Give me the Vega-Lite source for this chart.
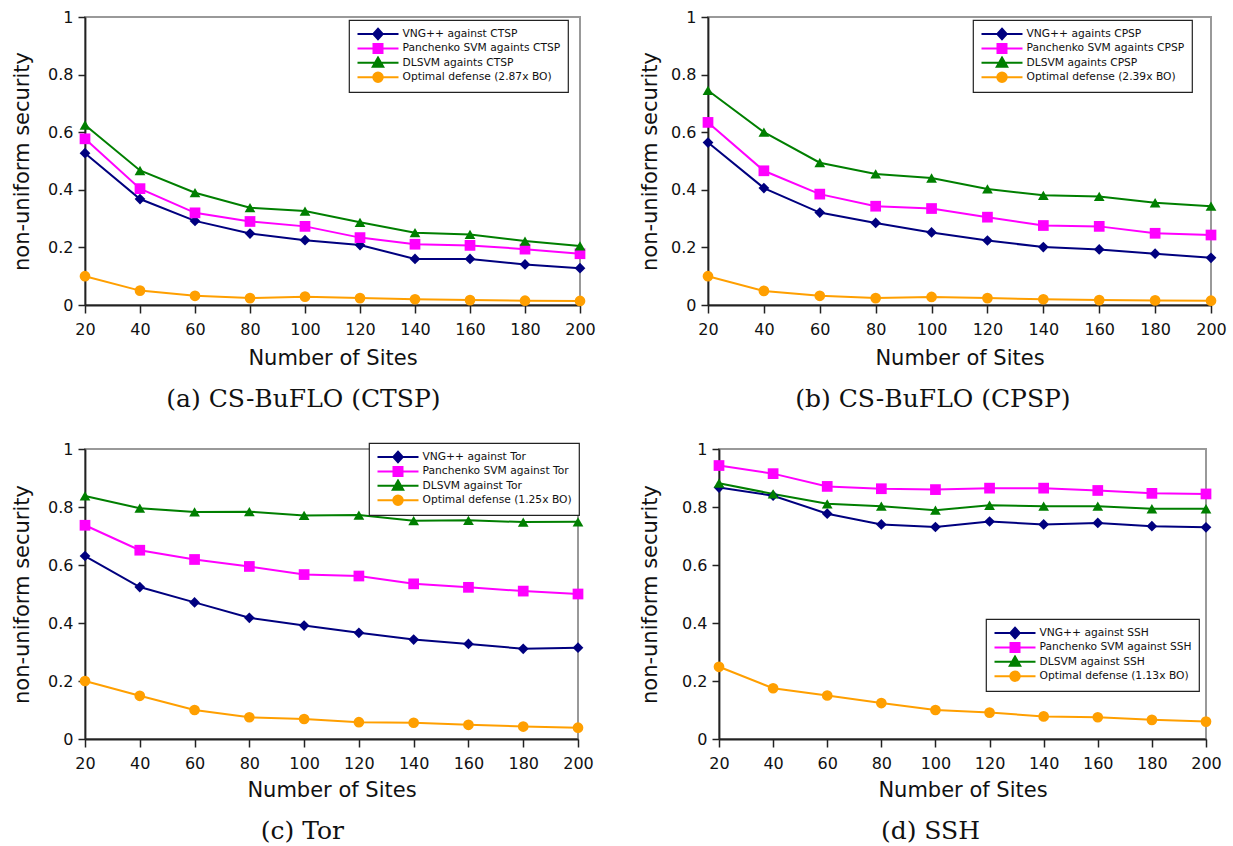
{
  "$schema": "https://vega.github.io/schema/vega-lite/v6.json",
  "padding": {"left": 10, "top": 8, "right": 0, "bottom": 0},
  "background": "white",
  "data": {"values": [
    {"panel":"a","series":"VNG++ against CTSP","sites":20,"value":0.527},
    {"panel":"a","series":"VNG++ against CTSP","sites":40,"value":0.368},
    {"panel":"a","series":"VNG++ against CTSP","sites":60,"value":0.292},
    {"panel":"a","series":"VNG++ against CTSP","sites":80,"value":0.248},
    {"panel":"a","series":"VNG++ against CTSP","sites":100,"value":0.225},
    {"panel":"a","series":"VNG++ against CTSP","sites":120,"value":0.208},
    {"panel":"a","series":"VNG++ against CTSP","sites":140,"value":0.16},
    {"panel":"a","series":"VNG++ against CTSP","sites":160,"value":0.16},
    {"panel":"a","series":"VNG++ against CTSP","sites":180,"value":0.141},
    {"panel":"a","series":"VNG++ against CTSP","sites":200,"value":0.128},
    {"panel":"a","series":"Panchenko SVM againts CTSP","sites":20,"value":0.577},
    {"panel":"a","series":"Panchenko SVM againts CTSP","sites":40,"value":0.404},
    {"panel":"a","series":"Panchenko SVM againts CTSP","sites":60,"value":0.32},
    {"panel":"a","series":"Panchenko SVM againts CTSP","sites":80,"value":0.29},
    {"panel":"a","series":"Panchenko SVM againts CTSP","sites":100,"value":0.273},
    {"panel":"a","series":"Panchenko SVM againts CTSP","sites":120,"value":0.234},
    {"panel":"a","series":"Panchenko SVM againts CTSP","sites":140,"value":0.211},
    {"panel":"a","series":"Panchenko SVM againts CTSP","sites":160,"value":0.207},
    {"panel":"a","series":"Panchenko SVM againts CTSP","sites":180,"value":0.194},
    {"panel":"a","series":"Panchenko SVM againts CTSP","sites":200,"value":0.178},
    {"panel":"a","series":"DLSVM againts CTSP","sites":20,"value":0.625},
    {"panel":"a","series":"DLSVM againts CTSP","sites":40,"value":0.467},
    {"panel":"a","series":"DLSVM againts CTSP","sites":60,"value":0.39},
    {"panel":"a","series":"DLSVM againts CTSP","sites":80,"value":0.338},
    {"panel":"a","series":"DLSVM againts CTSP","sites":100,"value":0.326},
    {"panel":"a","series":"DLSVM againts CTSP","sites":120,"value":0.287},
    {"panel":"a","series":"DLSVM againts CTSP","sites":140,"value":0.251},
    {"panel":"a","series":"DLSVM againts CTSP","sites":160,"value":0.245},
    {"panel":"a","series":"DLSVM againts CTSP","sites":180,"value":0.222},
    {"panel":"a","series":"DLSVM againts CTSP","sites":200,"value":0.205},
    {"panel":"a","series":"Optimal defense (2.87x BO)","sites":20,"value":0.1},
    {"panel":"a","series":"Optimal defense (2.87x BO)","sites":40,"value":0.05},
    {"panel":"a","series":"Optimal defense (2.87x BO)","sites":60,"value":0.032},
    {"panel":"a","series":"Optimal defense (2.87x BO)","sites":80,"value":0.024},
    {"panel":"a","series":"Optimal defense (2.87x BO)","sites":100,"value":0.029},
    {"panel":"a","series":"Optimal defense (2.87x BO)","sites":120,"value":0.024},
    {"panel":"a","series":"Optimal defense (2.87x BO)","sites":140,"value":0.02},
    {"panel":"a","series":"Optimal defense (2.87x BO)","sites":160,"value":0.017},
    {"panel":"a","series":"Optimal defense (2.87x BO)","sites":180,"value":0.015},
    {"panel":"a","series":"Optimal defense (2.87x BO)","sites":200,"value":0.014},
    {"panel":"b","series":"VNG++ againts CPSP","sites":20,"value":0.564},
    {"panel":"b","series":"VNG++ againts CPSP","sites":40,"value":0.406},
    {"panel":"b","series":"VNG++ againts CPSP","sites":60,"value":0.321},
    {"panel":"b","series":"VNG++ againts CPSP","sites":80,"value":0.285},
    {"panel":"b","series":"VNG++ againts CPSP","sites":100,"value":0.252},
    {"panel":"b","series":"VNG++ againts CPSP","sites":120,"value":0.224},
    {"panel":"b","series":"VNG++ againts CPSP","sites":140,"value":0.201},
    {"panel":"b","series":"VNG++ againts CPSP","sites":160,"value":0.193},
    {"panel":"b","series":"VNG++ againts CPSP","sites":180,"value":0.178},
    {"panel":"b","series":"VNG++ againts CPSP","sites":200,"value":0.164},
    {"panel":"b","series":"Panchenko SVM againts CPSP","sites":20,"value":0.634},
    {"panel":"b","series":"Panchenko SVM againts CPSP","sites":40,"value":0.466},
    {"panel":"b","series":"Panchenko SVM againts CPSP","sites":60,"value":0.385},
    {"panel":"b","series":"Panchenko SVM againts CPSP","sites":80,"value":0.343},
    {"panel":"b","series":"Panchenko SVM againts CPSP","sites":100,"value":0.335},
    {"panel":"b","series":"Panchenko SVM againts CPSP","sites":120,"value":0.305},
    {"panel":"b","series":"Panchenko SVM againts CPSP","sites":140,"value":0.276},
    {"panel":"b","series":"Panchenko SVM againts CPSP","sites":160,"value":0.273},
    {"panel":"b","series":"Panchenko SVM againts CPSP","sites":180,"value":0.249},
    {"panel":"b","series":"Panchenko SVM againts CPSP","sites":200,"value":0.243},
    {"panel":"b","series":"DLSVM againts CPSP","sites":20,"value":0.745},
    {"panel":"b","series":"DLSVM againts CPSP","sites":40,"value":0.6},
    {"panel":"b","series":"DLSVM againts CPSP","sites":60,"value":0.494},
    {"panel":"b","series":"DLSVM againts CPSP","sites":80,"value":0.455},
    {"panel":"b","series":"DLSVM againts CPSP","sites":100,"value":0.441},
    {"panel":"b","series":"DLSVM againts CPSP","sites":120,"value":0.403},
    {"panel":"b","series":"DLSVM againts CPSP","sites":140,"value":0.381},
    {"panel":"b","series":"DLSVM againts CPSP","sites":160,"value":0.377},
    {"panel":"b","series":"DLSVM againts CPSP","sites":180,"value":0.355},
    {"panel":"b","series":"DLSVM againts CPSP","sites":200,"value":0.343},
    {"panel":"b","series":"Optimal defense (2.39x BO)","sites":20,"value":0.1},
    {"panel":"b","series":"Optimal defense (2.39x BO)","sites":40,"value":0.049},
    {"panel":"b","series":"Optimal defense (2.39x BO)","sites":60,"value":0.032},
    {"panel":"b","series":"Optimal defense (2.39x BO)","sites":80,"value":0.024},
    {"panel":"b","series":"Optimal defense (2.39x BO)","sites":100,"value":0.028},
    {"panel":"b","series":"Optimal defense (2.39x BO)","sites":120,"value":0.024},
    {"panel":"b","series":"Optimal defense (2.39x BO)","sites":140,"value":0.02},
    {"panel":"b","series":"Optimal defense (2.39x BO)","sites":160,"value":0.017},
    {"panel":"b","series":"Optimal defense (2.39x BO)","sites":180,"value":0.016},
    {"panel":"b","series":"Optimal defense (2.39x BO)","sites":200,"value":0.015},
    {"panel":"c","series":"VNG++ against Tor","sites":20,"value":0.631},
    {"panel":"c","series":"VNG++ against Tor","sites":40,"value":0.524},
    {"panel":"c","series":"VNG++ against Tor","sites":60,"value":0.471},
    {"panel":"c","series":"VNG++ against Tor","sites":80,"value":0.418},
    {"panel":"c","series":"VNG++ against Tor","sites":100,"value":0.391},
    {"panel":"c","series":"VNG++ against Tor","sites":120,"value":0.366},
    {"panel":"c","series":"VNG++ against Tor","sites":140,"value":0.343},
    {"panel":"c","series":"VNG++ against Tor","sites":160,"value":0.328},
    {"panel":"c","series":"VNG++ against Tor","sites":180,"value":0.311},
    {"panel":"c","series":"VNG++ against Tor","sites":200,"value":0.315},
    {"panel":"c","series":"Panchenko SVM against Tor","sites":20,"value":0.737},
    {"panel":"c","series":"Panchenko SVM against Tor","sites":40,"value":0.651},
    {"panel":"c","series":"Panchenko SVM against Tor","sites":60,"value":0.619},
    {"panel":"c","series":"Panchenko SVM against Tor","sites":80,"value":0.595},
    {"panel":"c","series":"Panchenko SVM against Tor","sites":100,"value":0.567},
    {"panel":"c","series":"Panchenko SVM against Tor","sites":120,"value":0.562},
    {"panel":"c","series":"Panchenko SVM against Tor","sites":140,"value":0.535},
    {"panel":"c","series":"Panchenko SVM against Tor","sites":160,"value":0.523},
    {"panel":"c","series":"Panchenko SVM against Tor","sites":180,"value":0.51},
    {"panel":"c","series":"Panchenko SVM against Tor","sites":200,"value":0.5},
    {"panel":"c","series":"DLSVM against Tor","sites":20,"value":0.838},
    {"panel":"c","series":"DLSVM against Tor","sites":40,"value":0.796},
    {"panel":"c","series":"DLSVM against Tor","sites":60,"value":0.783},
    {"panel":"c","series":"DLSVM against Tor","sites":80,"value":0.784},
    {"panel":"c","series":"DLSVM against Tor","sites":100,"value":0.771},
    {"panel":"c","series":"DLSVM against Tor","sites":120,"value":0.772},
    {"panel":"c","series":"DLSVM against Tor","sites":140,"value":0.753},
    {"panel":"c","series":"DLSVM against Tor","sites":160,"value":0.754},
    {"panel":"c","series":"DLSVM against Tor","sites":180,"value":0.748},
    {"panel":"c","series":"DLSVM against Tor","sites":200,"value":0.749},
    {"panel":"c","series":"Optimal defense (1.25x BO)","sites":20,"value":0.2},
    {"panel":"c","series":"Optimal defense (1.25x BO)","sites":40,"value":0.149},
    {"panel":"c","series":"Optimal defense (1.25x BO)","sites":60,"value":0.1},
    {"panel":"c","series":"Optimal defense (1.25x BO)","sites":80,"value":0.075},
    {"panel":"c","series":"Optimal defense (1.25x BO)","sites":100,"value":0.069},
    {"panel":"c","series":"Optimal defense (1.25x BO)","sites":120,"value":0.058},
    {"panel":"c","series":"Optimal defense (1.25x BO)","sites":140,"value":0.056},
    {"panel":"c","series":"Optimal defense (1.25x BO)","sites":160,"value":0.049},
    {"panel":"c","series":"Optimal defense (1.25x BO)","sites":180,"value":0.043},
    {"panel":"c","series":"Optimal defense (1.25x BO)","sites":200,"value":0.039},
    {"panel":"d","series":"VNG++ against SSH","sites":20,"value":0.867},
    {"panel":"d","series":"VNG++ against SSH","sites":40,"value":0.839},
    {"panel":"d","series":"VNG++ against SSH","sites":60,"value":0.777},
    {"panel":"d","series":"VNG++ against SSH","sites":80,"value":0.74},
    {"panel":"d","series":"VNG++ against SSH","sites":100,"value":0.731},
    {"panel":"d","series":"VNG++ against SSH","sites":120,"value":0.75},
    {"panel":"d","series":"VNG++ against SSH","sites":140,"value":0.74},
    {"panel":"d","series":"VNG++ against SSH","sites":160,"value":0.745},
    {"panel":"d","series":"VNG++ against SSH","sites":180,"value":0.734},
    {"panel":"d","series":"VNG++ against SSH","sites":200,"value":0.73},
    {"panel":"d","series":"Panchenko SVM against SSH","sites":20,"value":0.943},
    {"panel":"d","series":"Panchenko SVM against SSH","sites":40,"value":0.915},
    {"panel":"d","series":"Panchenko SVM against SSH","sites":60,"value":0.871},
    {"panel":"d","series":"Panchenko SVM against SSH","sites":80,"value":0.863},
    {"panel":"d","series":"Panchenko SVM against SSH","sites":100,"value":0.86},
    {"panel":"d","series":"Panchenko SVM against SSH","sites":120,"value":0.865},
    {"panel":"d","series":"Panchenko SVM against SSH","sites":140,"value":0.865},
    {"panel":"d","series":"Panchenko SVM against SSH","sites":160,"value":0.857},
    {"panel":"d","series":"Panchenko SVM against SSH","sites":180,"value":0.847},
    {"panel":"d","series":"Panchenko SVM against SSH","sites":200,"value":0.845},
    {"panel":"d","series":"DLSVM against SSH","sites":20,"value":0.882},
    {"panel":"d","series":"DLSVM against SSH","sites":40,"value":0.845},
    {"panel":"d","series":"DLSVM against SSH","sites":60,"value":0.811},
    {"panel":"d","series":"DLSVM against SSH","sites":80,"value":0.803},
    {"panel":"d","series":"DLSVM against SSH","sites":100,"value":0.789},
    {"panel":"d","series":"DLSVM against SSH","sites":120,"value":0.806},
    {"panel":"d","series":"DLSVM against SSH","sites":140,"value":0.803},
    {"panel":"d","series":"DLSVM against SSH","sites":160,"value":0.803},
    {"panel":"d","series":"DLSVM against SSH","sites":180,"value":0.794},
    {"panel":"d","series":"DLSVM against SSH","sites":200,"value":0.794},
    {"panel":"d","series":"Optimal defense (1.13x BO)","sites":20,"value":0.249},
    {"panel":"d","series":"Optimal defense (1.13x BO)","sites":40,"value":0.175},
    {"panel":"d","series":"Optimal defense (1.13x BO)","sites":60,"value":0.15},
    {"panel":"d","series":"Optimal defense (1.13x BO)","sites":80,"value":0.124},
    {"panel":"d","series":"Optimal defense (1.13x BO)","sites":100,"value":0.1},
    {"panel":"d","series":"Optimal defense (1.13x BO)","sites":120,"value":0.091},
    {"panel":"d","series":"Optimal defense (1.13x BO)","sites":140,"value":0.078},
    {"panel":"d","series":"Optimal defense (1.13x BO)","sites":160,"value":0.075},
    {"panel":"d","series":"Optimal defense (1.13x BO)","sites":180,"value":0.066},
    {"panel":"d","series":"Optimal defense (1.13x BO)","sites":200,"value":0.06}
  ]},
  "config": {
    "view": {"stroke": "#999999", "strokeWidth": 2},
    "axis": {"grid": false, "domainColor": "#222222", "domainWidth": 1.8, "tickColor": "#222222", "tickWidth": 1.5, "labelFont": "DejaVu Sans", "labelFontSize": 16, "labelColor": "#111111", "labelFlush": false, "labelOverlap": false, "titleFont": "DejaVu Sans", "titleFontSize": 21, "titleFontWeight": "normal", "titleColor": "#111111"},
    "axisX": {"tickSize": 8, "labelPadding": 8, "titlePadding": 10},
    "axisY": {"tickSize": 7, "labelPadding": 5, "format": "~g"},
    "title": {"font": "DejaVu Serif", "fontSize": 25, "fontWeight": "normal", "color": "#111111", "orient": "bottom", "frame": "bounds", "anchor": "middle", "offset": 19, "baseline": "top"},
    "legend": {"title": null, "padding": 7, "strokeColor": "#222222", "strokeWidth": 1.2, "fillColor": "white", "labelFont": "DejaVu Sans", "labelFontSize": 10.7, "labelColor": "#111111", "labelLimit": 400, "symbolSize": 100, "symbolStrokeWidth": 2, "symbolOffset": 16, "labelOffset": 18.5, "rowPadding": 0.4, "clipHeight": 14, "direction": "vertical"}
  },
  "resolve": {"scale": {"color": "independent"}, "legend": {"color": "independent"}},
  "columns": 2,
  "align": "none",
  "spacing": {"row": 27, "column": 41},
  "concat": [
    {
      "width": 495, "height": 288,
      "title": {"text": "(a) CS-BuFLO (CTSP)"},
      "transform": [{"filter": "datum.panel === 'a'"}],
      "encoding": {
        "x": {"field": "sites", "type": "quantitative", "scale": {"domain": [20, 200], "nice": false, "zero": false}, "axis": {"values": [20,40,60,80,100,120,140,160,180,200], "title": "Number of Sites"}},
        "y": {"field": "value", "type": "quantitative", "scale": {"domain": [0, 1], "nice": false}, "axis": {"values": [0,0.2,0.4,0.6,0.8,1], "title": "non-uniform security", "titlePadding": 15}},
        "color": {"field": "series", "type": "nominal",
          "scale": {"domain": ["VNG++ against CTSP","Panchenko SVM againts CTSP","DLSVM againts CTSP","Optimal defense (2.87x BO)"], "range": ["#00007f","#ff00ff","#007f00","#ff9f00"]},
          "legend": {"orient": "none", "legendX": 264, "legendY": 3,
            "encode": {"symbols": {"update": {
              "shape": {"signal": "indexof(datum.value,'VNG')>=0 ? 'M-4.1,0H4.1M0,-1.05L0.95,0L0,1.05L-0.95,0Z' : indexof(datum.value,'Panchenko')>=0 ? 'M-4.1,0H4.1M-0.9,-0.9H0.9V0.9H-0.9Z' : indexof(datum.value,'DLSVM')>=0 ? 'M-4.1,0H4.1M0,-1.05L1.05,0.8H-1.05Z' : 'M-4.1,0H4.1M-0.95,0A0.95,0.95,0,1,0,0.95,0A0.95,0.95,0,1,0,-0.95,0Z'"},
              "fill": {"signal": "indexof(datum.value,'VNG')>=0 ? '#00007f' : indexof(datum.value,'Panchenko')>=0 ? '#ff00ff' : indexof(datum.value,'DLSVM')>=0 ? '#007f00' : '#ff9f00'"},
              "stroke": {"signal": "indexof(datum.value,'VNG')>=0 ? '#00007f' : indexof(datum.value,'Panchenko')>=0 ? '#ff00ff' : indexof(datum.value,'DLSVM')>=0 ? '#007f00' : '#ff9f00'"},
              "strokeWidth": {"value": 2},
              "opacity": {"value": 1}
            }}}}}
      },
      "layer": [
        {"mark": {"type": "line", "strokeWidth": 2}},
        {"transform": [{"filter": "indexof(datum.series,'VNG')>=0"}], "mark": {"type": "point", "shape": "diamond", "filled": true, "size": 115, "opacity": 1}},
        {"transform": [{"filter": "indexof(datum.series,'Panchenko')>=0"}], "mark": {"type": "point", "shape": "square", "filled": true, "size": 115, "opacity": 1}},
        {"transform": [{"filter": "indexof(datum.series,'DLSVM')>=0"}], "mark": {"type": "point", "shape": "triangle-up", "filled": true, "size": 115, "opacity": 1}},
        {"transform": [{"filter": "indexof(datum.series,'Optimal')>=0"}], "mark": {"type": "point", "shape": "circle", "filled": true, "size": 115, "opacity": 1}}
      ]
    },
    {
      "width": 503, "height": 288,
      "title": {"text": "(b) CS-BuFLO (CPSP)"},
      "transform": [{"filter": "datum.panel === 'b'"}],
      "encoding": {
        "x": {"field": "sites", "type": "quantitative", "scale": {"domain": [20, 200], "nice": false, "zero": false}, "axis": {"values": [20,40,60,80,100,120,140,160,180,200], "title": "Number of Sites"}},
        "y": {"field": "value", "type": "quantitative", "scale": {"domain": [0, 1], "nice": false}, "axis": {"values": [0,0.2,0.4,0.6,0.8,1], "title": "non-uniform security", "titlePadding": 10}},
        "color": {"field": "series", "type": "nominal",
          "scale": {"domain": ["VNG++ againts CPSP","Panchenko SVM againts CPSP","DLSVM againts CPSP","Optimal defense (2.39x BO)"], "range": ["#00007f","#ff00ff","#007f00","#ff9f00"]},
          "legend": {"orient": "none", "legendX": 265, "legendY": 3,
            "encode": {"symbols": {"update": {
              "shape": {"signal": "indexof(datum.value,'VNG')>=0 ? 'M-4.1,0H4.1M0,-1.05L0.95,0L0,1.05L-0.95,0Z' : indexof(datum.value,'Panchenko')>=0 ? 'M-4.1,0H4.1M-0.9,-0.9H0.9V0.9H-0.9Z' : indexof(datum.value,'DLSVM')>=0 ? 'M-4.1,0H4.1M0,-1.05L1.05,0.8H-1.05Z' : 'M-4.1,0H4.1M-0.95,0A0.95,0.95,0,1,0,0.95,0A0.95,0.95,0,1,0,-0.95,0Z'"},
              "fill": {"signal": "indexof(datum.value,'VNG')>=0 ? '#00007f' : indexof(datum.value,'Panchenko')>=0 ? '#ff00ff' : indexof(datum.value,'DLSVM')>=0 ? '#007f00' : '#ff9f00'"},
              "stroke": {"signal": "indexof(datum.value,'VNG')>=0 ? '#00007f' : indexof(datum.value,'Panchenko')>=0 ? '#ff00ff' : indexof(datum.value,'DLSVM')>=0 ? '#007f00' : '#ff9f00'"},
              "strokeWidth": {"value": 2},
              "opacity": {"value": 1}
            }}}}}
      },
      "layer": [
        {"mark": {"type": "line", "strokeWidth": 2}},
        {"transform": [{"filter": "indexof(datum.series,'VNG')>=0"}], "mark": {"type": "point", "shape": "diamond", "filled": true, "size": 115, "opacity": 1}},
        {"transform": [{"filter": "indexof(datum.series,'Panchenko')>=0"}], "mark": {"type": "point", "shape": "square", "filled": true, "size": 115, "opacity": 1}},
        {"transform": [{"filter": "indexof(datum.series,'DLSVM')>=0"}], "mark": {"type": "point", "shape": "triangle-up", "filled": true, "size": 115, "opacity": 1}},
        {"transform": [{"filter": "indexof(datum.series,'Optimal')>=0"}], "mark": {"type": "point", "shape": "circle", "filled": true, "size": 115, "opacity": 1}}
      ]
    },
    {
      "width": 493, "height": 290,
      "title": {"text": "(c) Tor"},
      "transform": [{"filter": "datum.panel === 'c'"}],
      "encoding": {
        "x": {"field": "sites", "type": "quantitative", "scale": {"domain": [20, 200], "nice": false, "zero": false}, "axis": {"values": [20,40,60,80,100,120,140,160,180,200], "title": "Number of Sites", "titlePadding": 8}},
        "y": {"field": "value", "type": "quantitative", "scale": {"domain": [0, 1], "nice": false}, "axis": {"values": [0,0.2,0.4,0.6,0.8,1], "title": "non-uniform security", "titlePadding": 15}},
        "color": {"field": "series", "type": "nominal",
          "scale": {"domain": ["VNG++ against Tor","Panchenko SVM against Tor","DLSVM against Tor","Optimal defense (1.25x BO)"], "range": ["#00007f","#ff00ff","#007f00","#ff9f00"]},
          "legend": {"orient": "none", "legendX": 284, "legendY": -6,
            "encode": {"symbols": {"update": {
              "shape": {"signal": "indexof(datum.value,'VNG')>=0 ? 'M-4.1,0H4.1M0,-1.05L0.95,0L0,1.05L-0.95,0Z' : indexof(datum.value,'Panchenko')>=0 ? 'M-4.1,0H4.1M-0.9,-0.9H0.9V0.9H-0.9Z' : indexof(datum.value,'DLSVM')>=0 ? 'M-4.1,0H4.1M0,-1.05L1.05,0.8H-1.05Z' : 'M-4.1,0H4.1M-0.95,0A0.95,0.95,0,1,0,0.95,0A0.95,0.95,0,1,0,-0.95,0Z'"},
              "fill": {"signal": "indexof(datum.value,'VNG')>=0 ? '#00007f' : indexof(datum.value,'Panchenko')>=0 ? '#ff00ff' : indexof(datum.value,'DLSVM')>=0 ? '#007f00' : '#ff9f00'"},
              "stroke": {"signal": "indexof(datum.value,'VNG')>=0 ? '#00007f' : indexof(datum.value,'Panchenko')>=0 ? '#ff00ff' : indexof(datum.value,'DLSVM')>=0 ? '#007f00' : '#ff9f00'"},
              "strokeWidth": {"value": 2},
              "opacity": {"value": 1}
            }}}}}
      },
      "layer": [
        {"mark": {"type": "line", "strokeWidth": 2}},
        {"transform": [{"filter": "indexof(datum.series,'VNG')>=0"}], "mark": {"type": "point", "shape": "diamond", "filled": true, "size": 115, "opacity": 1}},
        {"transform": [{"filter": "indexof(datum.series,'Panchenko')>=0"}], "mark": {"type": "point", "shape": "square", "filled": true, "size": 115, "opacity": 1}},
        {"transform": [{"filter": "indexof(datum.series,'DLSVM')>=0"}], "mark": {"type": "point", "shape": "triangle-up", "filled": true, "size": 115, "opacity": 1}},
        {"transform": [{"filter": "indexof(datum.series,'Optimal')>=0"}], "mark": {"type": "point", "shape": "circle", "filled": true, "size": 115, "opacity": 1}}
      ]
    },
    {
      "width": 487, "height": 290,
      "title": {"text": "(d) SSH"},
      "transform": [{"filter": "datum.panel === 'd'"}],
      "encoding": {
        "x": {"field": "sites", "type": "quantitative", "scale": {"domain": [20, 200], "nice": false, "zero": false}, "axis": {"values": [20,40,60,80,100,120,140,160,180,200], "title": "Number of Sites", "titlePadding": 8}},
        "y": {"field": "value", "type": "quantitative", "scale": {"domain": [0, 1], "nice": false}, "axis": {"values": [0,0.2,0.4,0.6,0.8,1], "title": "non-uniform security", "titlePadding": 21}},
        "color": {"field": "series", "type": "nominal",
          "scale": {"domain": ["VNG++ against SSH","Panchenko SVM against SSH","DLSVM against SSH","Optimal defense (1.13x BO)"], "range": ["#00007f","#ff00ff","#007f00","#ff9f00"]},
          "legend": {"orient": "none", "legendX": 267, "legendY": 170,
            "encode": {"symbols": {"update": {
              "shape": {"signal": "indexof(datum.value,'VNG')>=0 ? 'M-4.1,0H4.1M0,-1.05L0.95,0L0,1.05L-0.95,0Z' : indexof(datum.value,'Panchenko')>=0 ? 'M-4.1,0H4.1M-0.9,-0.9H0.9V0.9H-0.9Z' : indexof(datum.value,'DLSVM')>=0 ? 'M-4.1,0H4.1M0,-1.05L1.05,0.8H-1.05Z' : 'M-4.1,0H4.1M-0.95,0A0.95,0.95,0,1,0,0.95,0A0.95,0.95,0,1,0,-0.95,0Z'"},
              "fill": {"signal": "indexof(datum.value,'VNG')>=0 ? '#00007f' : indexof(datum.value,'Panchenko')>=0 ? '#ff00ff' : indexof(datum.value,'DLSVM')>=0 ? '#007f00' : '#ff9f00'"},
              "stroke": {"signal": "indexof(datum.value,'VNG')>=0 ? '#00007f' : indexof(datum.value,'Panchenko')>=0 ? '#ff00ff' : indexof(datum.value,'DLSVM')>=0 ? '#007f00' : '#ff9f00'"},
              "strokeWidth": {"value": 2},
              "opacity": {"value": 1}
            }}}}}
      },
      "layer": [
        {"mark": {"type": "line", "strokeWidth": 2}},
        {"transform": [{"filter": "indexof(datum.series,'VNG')>=0"}], "mark": {"type": "point", "shape": "diamond", "filled": true, "size": 115, "opacity": 1}},
        {"transform": [{"filter": "indexof(datum.series,'Panchenko')>=0"}], "mark": {"type": "point", "shape": "square", "filled": true, "size": 115, "opacity": 1}},
        {"transform": [{"filter": "indexof(datum.series,'DLSVM')>=0"}], "mark": {"type": "point", "shape": "triangle-up", "filled": true, "size": 115, "opacity": 1}},
        {"transform": [{"filter": "indexof(datum.series,'Optimal')>=0"}], "mark": {"type": "point", "shape": "circle", "filled": true, "size": 115, "opacity": 1}}
      ]
    }
  ]
}
